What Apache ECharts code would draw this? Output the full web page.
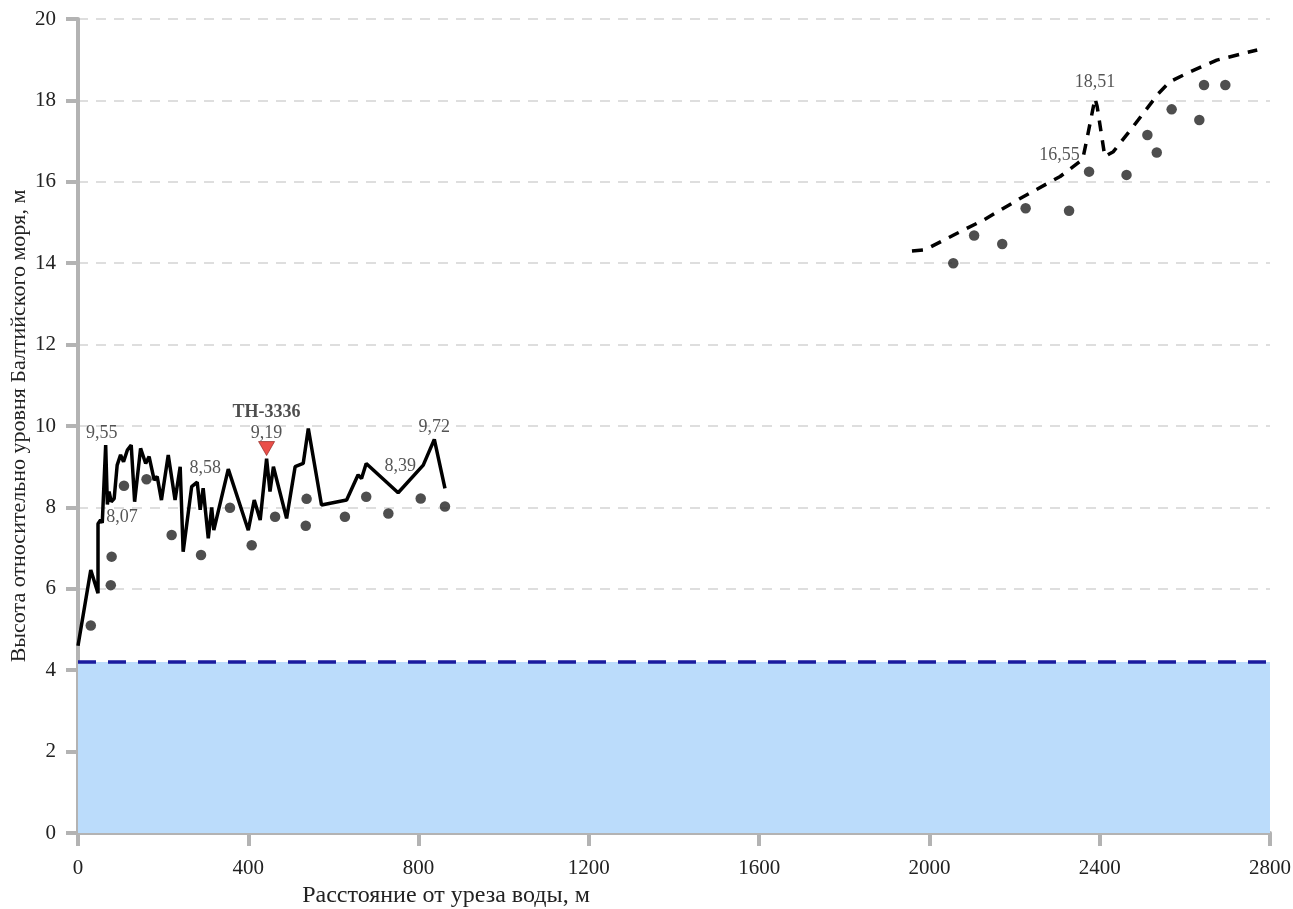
<!DOCTYPE html>
<html><head><meta charset="utf-8">
<script src="https://cdn.jsdelivr.net/npm/echarts@6/dist/echarts.min.js"></script>
<style>html,body{margin:0;padding:0;background:#fff}#c{width:1293px;height:909px}</style>
</head><body><div id="c"></div>
<script>
// Profile near the shore (solid line): [distance m, height m]
const profileNear = [[0,4.6],[30,6.46],[47,5.89],[47,7.6],[53,7.69],[57,7.62],[65,9.53],[69,8.07],[73,8.39],[78,8.14],[85,8.22],[92,9.04],[100,9.29],[107,9.12],[116,9.41],[125,9.53],[133,8.14],[147,9.45],[159,9.08],[167,9.25],[179,8.67],[186,8.76],[196,8.18],[212,9.29],[228,8.18],[240,9.0],[247,6.91],[267,8.51],[280,8.62],[287,7.94],[294,8.47],[306,7.24],[314,8.0],[319,7.44],[353,8.94],[400,7.44],[414,8.18],[428,7.69],[443,9.2],[451,8.39],[459,9.0],[490,7.73],[510,9.0],[529,9.08],[541,9.94],[572,8.06],[631,8.18],[658,8.8],[666,8.71],[677,9.08],[752,8.36],[811,9.04],[837,9.67],[862,8.47]];
// Far profile (dashed line)
const profileFar = [[1959,14.3],[1990,14.33],[2064,14.73],[2127,15.06],[2213,15.59],[2307,16.13],[2360,16.55],[2368,16.95],[2389,18.05],[2394,17.85],[2412,16.62],[2432,16.74],[2475,17.31],[2538,18.17],[2565,18.46],[2612,18.7],[2675,18.99],[2770,19.24]];
// Measured points (dots)
const dotsX = [30,77,79,108,161,220,289,357,408,463,537,535,627,677,729,805,862,2056,2105,2171,2226,2328,2375,2463,2512,2534,2569,2634,2645,2695];
const dotsY = [5.1,6.09,6.79,8.53,8.69,7.32,6.83,7.99,7.07,7.77,8.21,7.55,7.77,8.26,7.85,8.22,8.02,14.0,14.68,14.47,15.35,15.29,16.25,16.17,17.15,16.72,17.78,17.52,18.38,18.38];
// Water level
const waterLevel = 4.2;
const waterRange = [0, 2800];
// Annotations
const annX = [65,69,280,752,837,2360,2389];
const annY = [9.53,8.07,8.62,8.36,9.67,16.55,18.05];
const annText = ['9,55','8,07','8,58','8,39','9,72','16,55','18,51'];
// Well marker
const wellX = 443, wellY = 9.2, wellName = 'ТН-3336', wellValue = '9,19';
const xTicks = {min:0,max:2800,interval:400};
const yTicks = {min:0,max:20,interval:2};

const annPos = ['top','right','top','top','top','left','top'];
const annOffsets = [[-4,2],[-4,13],[8,0],[2,-12],[0,2],[0,-4],[0,-2]];
const font = '"Liberation Serif","Times New Roman",serif';

const chart = echarts.init(document.getElementById('c'));
chart.setOption({
  animation:false,
  backgroundColor:'#fff',
  grid:{left:78,right:23,top:19,bottom:76,containLabel:false,outerBoundsMode:'none'},
  title:{text:'Расстояние от уреза воды, м',left:441,top:879,textAlign:'center',
    textStyle:{fontFamily:font,fontSize:24,fontWeight:'normal',color:'#222'}},
  xAxis:{type:'value',min:xTicks.min,max:xTicks.max,interval:xTicks.interval,
    axisLine:{show:true,onZero:false,lineStyle:{color:'#b3b3b3',width:4}},
    axisTick:{show:true,length:13,lineStyle:{color:'#b3b3b3',width:4}},
    axisLabel:{fontFamily:font,fontSize:21,color:'#222',margin:25,formatter:v=>String(v)},
    splitLine:{show:false}},
  yAxis:{type:'value',min:yTicks.min,max:yTicks.max,interval:yTicks.interval,
    name:'Высота относительно уровня Балтийского моря, м',nameLocation:'middle',nameGap:48,
    nameMoveOverlap:false,
    nameTextStyle:{fontFamily:font,fontSize:22,color:'#222'},
    axisLine:{show:true,onZero:false,lineStyle:{color:'#b3b3b3',width:4}},
    axisTick:{show:true,length:12,lineStyle:{color:'#b3b3b3',width:4}},
    axisLabel:{fontFamily:font,fontSize:21,color:'#222',margin:22,formatter:v=>String(v)},
    splitLine:{show:true,lineStyle:{color:'#d4d4d4',width:1.5,type:[10,8]}}},
  series:[
    {type:'line',data:waterRange.map(x=>[x,waterLevel]),symbol:'none',z:1,
      lineStyle:{color:'#1b1b9e',width:3.5,type:[18,12]},
      areaStyle:{color:'#bbdcfb',opacity:1,origin:'start'}},
    {type:'line',data:profileNear,symbol:'none',z:3,lineStyle:{color:'#000',width:3.5},
      itemStyle:{color:'#000'}},
    {type:'line',data:profileFar,symbol:'none',z:3,lineStyle:{color:'#000',width:3.5,type:[11,9]}},
    {type:'scatter',data:dotsX.map((x,i)=>[x,dotsY[i]]),symbol:'circle',symbolSize:10.5,z:4,
      itemStyle:{color:'#222'}},
    {type:'scatter',z:5,symbolSize:0,silent:true,
      data:annX.map((x,i)=>({value:[x,annY[i]],label:{show:true,position:annPos[i],distance:annPos[i]==='top'?5:3,
        offset:annOffsets[i],formatter:annText[i],fontFamily:font,fontSize:18,color:'#2a2a2a'}}))},
    {type:'scatter',z:6,symbol:'triangle',symbolRotate:180,symbolSize:[16,14],symbolOffset:[0,-10],
      itemStyle:{color:'#e5231b',borderColor:'#8a1a14',borderWidth:0.8},
      data:[{value:[wellX,wellY],label:{show:true,position:'top',distance:2,offset:[0,4],
        formatter:'{a|'+wellName+'}\n{b|'+wellValue+'}',
        rich:{a:{fontFamily:font,fontSize:18,fontWeight:'bold',color:'#222',lineHeight:22},
              b:{fontFamily:font,fontSize:18,color:'#2a2a2a',lineHeight:20}}}}]}
  ]
});
</script></body></html>
